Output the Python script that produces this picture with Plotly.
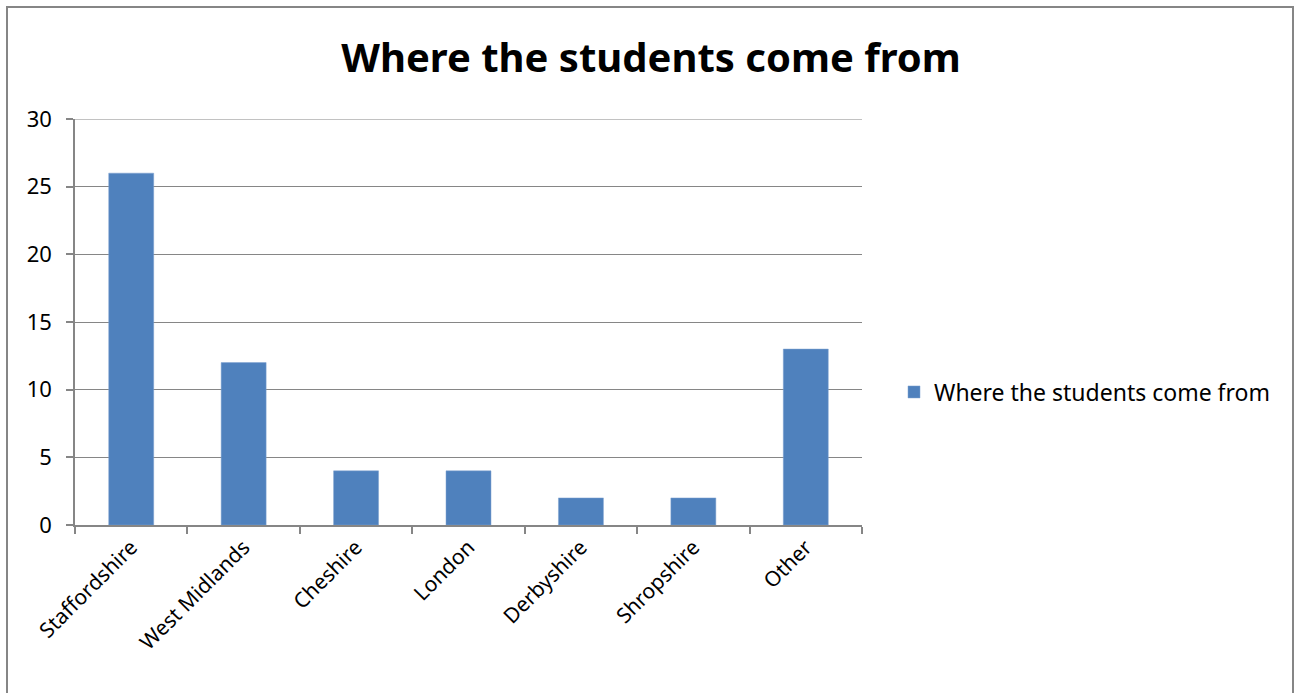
import plotly.graph_objects as go

categories = ["Staffordshire", "West Midlands", "Cheshire", "London", "Derbyshire", "Shropshire", "Other"]
values = [26, 12, 4, 4, 2, 2, 13]
series_name = "Where the students come from"
title_text = "Where the students come from"
y_ticks = [0, 5, 10, 15, 20, 25, 30]

W, H = 1301, 693
L, R, T, B = 75, 862, 119, 525

def px(xp):
    return (xp - L) / (R - L)

def py(yp):
    return (B - yp) / (B - T)

fig = go.Figure()
fig.add_trace(go.Bar(
    x=categories, y=values, name=series_name,
    marker=dict(color="#4F81BD", line=dict(color="#7FA3D0", width=0.5)),
    showlegend=True,
))

font_family = "Noto Sans, Open Sans, sans-serif"

fig.update_layout(
    width=W, height=H,
    margin=dict(l=L, r=W - R, t=T, b=H - B, autoexpand=False),
    paper_bgcolor="white", plot_bgcolor="white",
    bargap=0.6,
    font=dict(family=font_family, size=22, color="black"),
    title=dict(text="<b>" + title_text + "</b>", x=px(651), xref="paper", xanchor="center",
               y=1 - 58 / H, yanchor="middle", font=dict(size=40, family=font_family)),
    showlegend=True,
    legend=dict(x=px(894), y=py(392), xanchor="left", yanchor="middle",
                font=dict(size=23), itemwidth=30, bgcolor="rgba(0,0,0,0)"),
    xaxis=dict(
        type="category", tickangle=-45, showline=True, linecolor="#868686", linewidth=1.5,
        ticks="outside", tickson="boundaries", ticklen=7, tickcolor="#868686", tickwidth=1.5,
        showgrid=False, tickfont=dict(size=21),
    ),
    yaxis=dict(
        range=[0, y_ticks[-1]], tickvals=y_ticks, showline=True, linecolor="#868686", linewidth=1.5,
        ticks="outside", ticklen=7, tickcolor="#868686", tickwidth=1.5,
        showgrid=True, gridcolor="#868686", gridwidth=1.2, zeroline=False,
        tickfont=dict(size=22), ticklabelstandoff=10,
    ),
    shapes=[
        dict(type="line", xref="paper", yref="y", x0=0, x1=1, y0=y_ticks[-1], y1=y_ticks[-1],
             line=dict(color="#868686", width=1.2), layer="below"),
        dict(type="rect", xref="paper", yref="paper",
             x0=px(7), x1=px(1293), y0=py(720), y1=py(7),
             line=dict(color="#868686", width=2), fillcolor="rgba(0,0,0,0)", layer="above"),
    ],
)

fig.write_html("out.html")
